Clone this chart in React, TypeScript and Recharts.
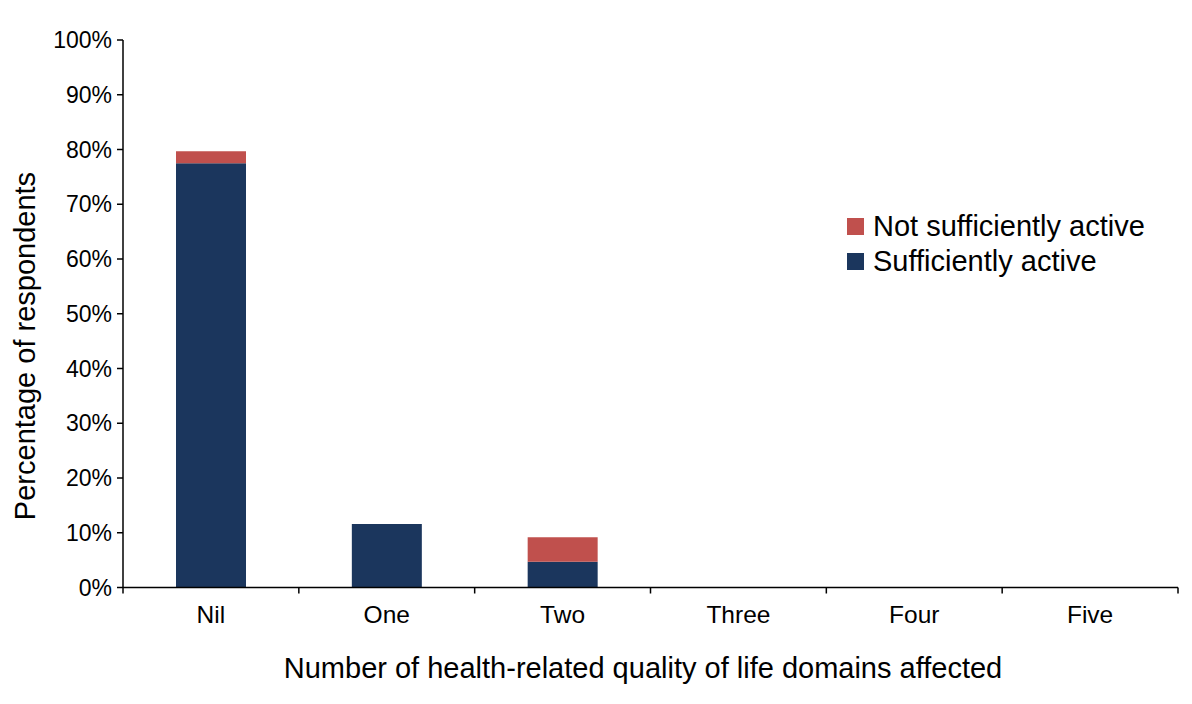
import React from 'react';
import { Bar, BarChart, Customized, XAxis, YAxis } from 'recharts';

const categories = ['Nil', 'One', 'Two', 'Three', 'Four', 'Five'];
const sufficientlyActive = [77.5, 11.6, 4.7, 0, 0, 0];
const notSufficientlyActive = [2.2, 0, 4.5, 0, 0, 0];
const yTicks = [0, 10, 20, 30, 40, 50, 60, 70, 80, 90, 100];

const BLUE = '#1b365d';
const RED = '#c0504d';
const FONT = '"Liberation Sans", Arial, sans-serif';

const data = categories.map((name, i) => ({
  name,
  sufficient: sufficientlyActive[i],
  notSufficient: notSufficientlyActive[i],
}));

// category label plus tick marks on the band boundaries (not the centres)
function CategoryTick(props: any) {
  const { x, y, payload, index } = props;
  const half = payload?.offset ?? 0;
  const axisY = y - 18;
  return (
    <g>
      {index === 0 && (
        <line x1={x - half} x2={x - half} y1={axisY} y2={axisY + 6} stroke="#000" strokeWidth={1.5} />
      )}
      <line x1={x + half} x2={x + half} y1={axisY} y2={axisY + 6} stroke="#000" strokeWidth={1.5} />
      <text
        x={x}
        y={y}
        dy="0.71em"
        textAnchor="middle"
        fill="#000"
        fontSize={24.5}
        fontFamily={FONT}
      >
        {payload.value}
      </text>
    </g>
  );
}

function ChartLegend() {
  const items = [
    { label: 'Not sufficiently active', color: RED },
    { label: 'Sufficiently active', color: BLUE },
  ];
  return (
    <div
      style={{
        position: 'absolute',
        left: 847,
        top: 209,
        fontFamily: FONT,
        fontSize: 29,
        color: '#000',
      }}
    >
      {items.map((it) => (
        <div
          key={it.label}
          style={{ display: 'flex', alignItems: 'center', height: 35, whiteSpace: 'nowrap' }}
        >
          <span
            style={{
              display: 'inline-block',
              width: 17,
              height: 17,
              background: it.color,
              marginRight: 9,
            }}
          />
          {it.label}
        </div>
      ))}
    </div>
  );
}

function AxisTitles() {
  return (
    <g fontFamily={FONT} fontSize={29} fill="#000">
      <text x={643} y={678} textAnchor="middle">
        Number of health-related quality of life domains affected
      </text>
      <text
        x={35}
        y={346}
        textAnchor="middle"
        transform="rotate(-90 35 346)"
      >
        Percentage of respondents
      </text>
    </g>
  );
}

export default function App() {
  return (
    <div style={{ position: 'absolute', left: 0, top: 0, width: 1192, height: 704, background: '#fff' }}>
      <BarChart
        width={1192}
        height={704}
        data={data}
        margin={{ top: 40, right: 14, left: 0, bottom: 0 }}
      >
        <YAxis
          width={123}
          domain={[0, 100]}
          ticks={yTicks}
          interval={0}
          tickFormatter={(v) => `${v}%`}
          tick={{ fill: '#000', fontSize: 23, fontFamily: FONT }}
          tickSize={6}
          tickMargin={5}
          axisLine={{ stroke: '#000', strokeWidth: 1.5 }}
          tickLine={{ stroke: '#000', strokeWidth: 1.5 }}
        />
        <XAxis
          dataKey="name"
          height={116.5}
          interval={0}
          tick={<CategoryTick />}
          tickSize={0}
          tickMargin={18}
          axisLine={{ stroke: '#000', strokeWidth: 1.5 }}
          tickLine={false}
        />
        <Bar
          dataKey="sufficient"
          name="Sufficiently active"
          stackId="a"
          fill={BLUE}
          barSize={70}
          isAnimationActive={false}
        />
        <Bar
          dataKey="notSufficient"
          name="Not sufficiently active"
          stackId="a"
          fill={RED}
          barSize={70}
          isAnimationActive={false}
        />
        <Customized component={AxisTitles} />
      </BarChart>
      <ChartLegend />
    </div>
  );
}
